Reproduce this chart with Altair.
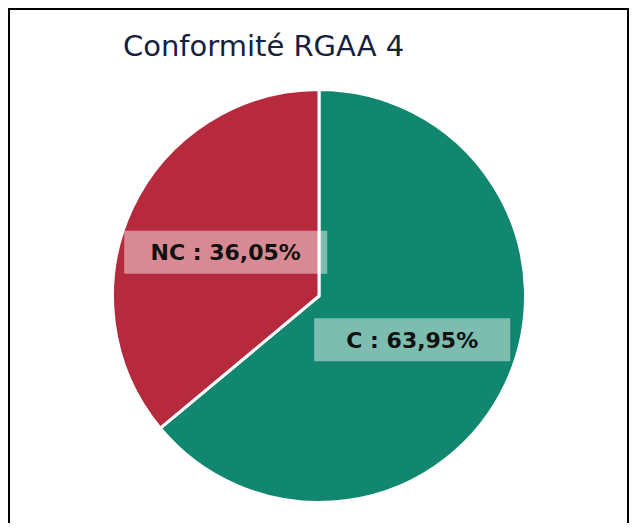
import altair as alt
import pandas as pd

categories = ["C", "NC"]
values = [63.95, 36.05]
labels = ["C : 63,95%", "NC : 36,05%"]
colors = ["#12876f", "#b7293d"]
title_text = "Conformité RGAA 4"

df = pd.DataFrame({"cat": categories, "value": values, "label": labels,
                   "idx": list(range(len(categories)))})

W, H = 621, 515
CX, CY, R = 311, 288, 206.5
LR = 103

base = alt.Chart(df)

arcs = base.mark_arc(outerRadius=R, stroke="white", strokeWidth=3).encode(
    theta=alt.Theta("value:Q", stack=True),
    color=alt.Color("cat:N", scale=alt.Scale(domain=categories, range=colors), legend=None),
    order=alt.Order("idx:Q"),
    x=alt.value(CX),
    y=alt.value(CY),
)

pos = base.transform_joinaggregate(total="sum(value)").transform_window(
    cum="sum(value)", sort=[alt.SortField("idx")], frame=[None, 0]
).transform_calculate(
    mid="(datum.cum - datum.value/2) / datum.total * 2 * PI",
).transform_calculate(
    lx=f"{CX} + {LR} * sin(datum.mid)",
    ly=f"{CY} - {LR} * cos(datum.mid)",
    bw="7 * length(datum.label) + 126",
).transform_calculate(
    x1="datum.lx - datum.bw / 2",
    x2="datum.lx + datum.bw / 2",
    y1="datum.ly - 21.5",
    y2="datum.ly + 21.5",
)

boxes = pos.mark_rect(color="white", opacity=0.45).encode(
    x=alt.X("x1:Q", scale=None),
    x2="x2:Q",
    y=alt.Y("y1:Q", scale=None),
    y2="y2:Q",
)

texts = pos.mark_text(font="DejaVu Sans", fontSize=22, fontWeight="bold",
                      color="#111111", baseline="middle", align="center", dy=1).encode(
    x=alt.X("lx:Q", scale=None),
    y=alt.Y("ly:Q", scale=None),
    text="label:N",
)

title = alt.Chart(alt.Data(values=[{"t": title_text}])).mark_text(
    font="DejaVu Sans", fontSize=29, color="#16213e", align="left", baseline="alphabetic"
).encode(x=alt.value(115), y=alt.value(48), text="t:N")

border_data = alt.Data(values=[{}])
left = alt.Chart(border_data).mark_rule(color="black", strokeWidth=2).encode(
    x=alt.value(1), y=alt.value(0), y2=alt.value(H))
right = alt.Chart(border_data).mark_rule(color="black", strokeWidth=2).encode(
    x=alt.value(W - 1), y=alt.value(0), y2=alt.value(H))
top = alt.Chart(border_data).mark_rule(color="black", strokeWidth=2).encode(
    x=alt.value(0), x2=alt.value(W), y=alt.value(1))

chart = alt.layer(arcs, boxes, texts, title, left, right, top).properties(
    width=W, height=H, autosize=alt.AutoSizeParams(type="none"), padding=0
).configure_view(stroke=None)

chart.save("out.html", embed_options={"renderer": "svg", "actions": False})
